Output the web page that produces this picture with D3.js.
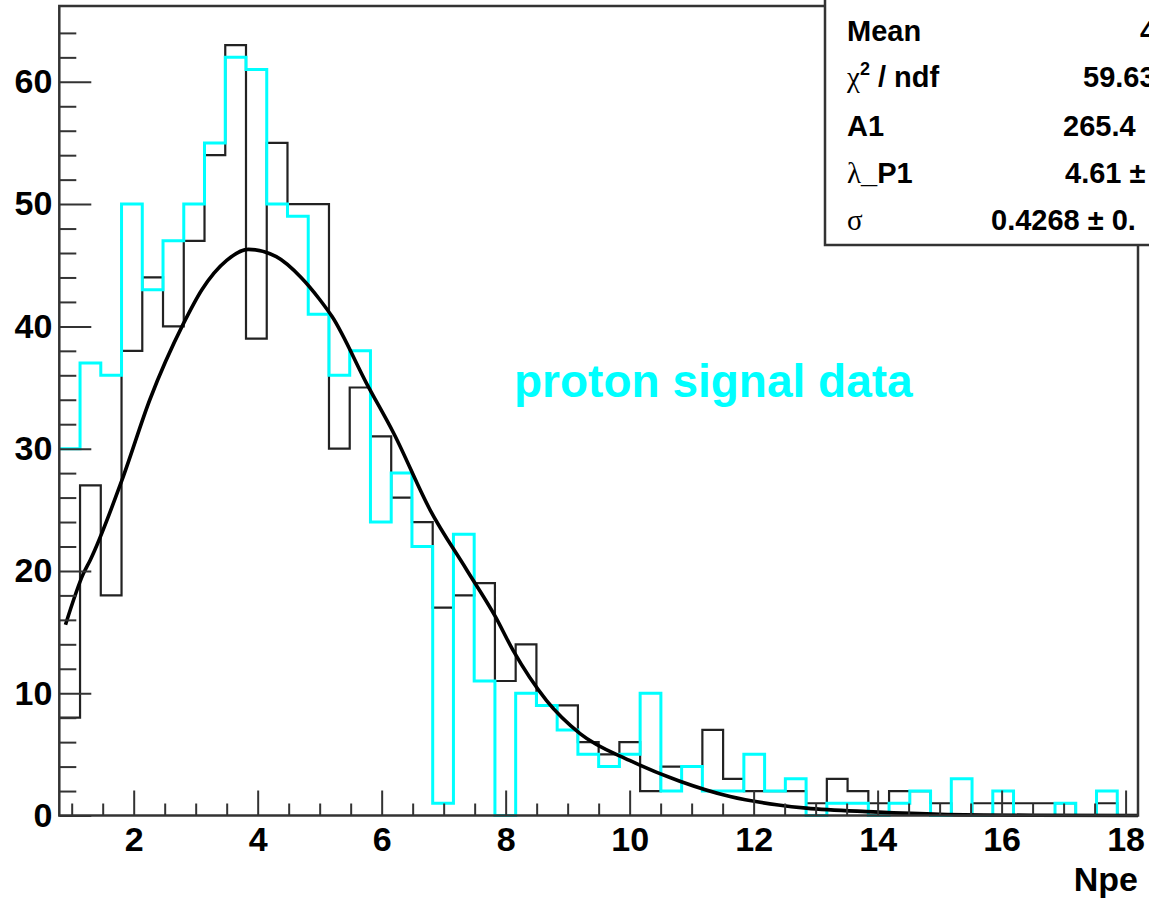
<!DOCTYPE html>
<html>
<head>
<meta charset="utf-8">
<script src="https://cdn.jsdelivr.net/npm/d3@7"></script>
<style>
  body { margin: 0; background: #fff; }
  svg { display: block; font-family: "Liberation Sans", Arial, Helvetica, sans-serif; }
</style>
</head>
<body>
<div id="chart"></div>
<script>
// histogram binning (Npe axis)
const binLo = 0.8, binHi = 18.2, nBins = 52;

// black histogram counts
const blackCounts = [8,27,18,38,44,40,47,54,63,39,
                     55,50,50,30,35,31,26,24,17,18,
                     19,11,14,9,9,6,5,6,2,4,
                     4,7,3,2,2,2,1,3,2,1,
                     2,2,1,0,1,1,1,1,1,0,
                     1,0];

// cyan histogram counts ("proton signal data")
const cyanCounts = [30,37,36,50,43,47,50,55,62,61,
                    50,49,41,36,38,24,28,22,1,23,
                    11,0,10,9,7,5,4,5,10,2,
                    4,2,2,5,2,3,0,1,1,0,
                    1,2,0,3,0,2,0,0,1,0,
                    2,0];

// fitted curve
const fitX = [0.9,1.19,1.3,1.83,2.26,2.8,3.1,3.5,3.85,4.3,4.7,5.0,5.2,5.76,6.2,6.78,7.37,7.83,8.12,8.66,9.2,10.0,10.81,11.62,12.4,12.85,13.93,15.0,16.5,18.2];
const fitY = [15.6,19.8,20.9,27.7,34.0,40.2,43.0,45.4,46.3,45.7,44.0,42.2,40.8,35.3,31.2,25.0,20.1,16.3,13.5,9.4,6.7,4.5,2.8,1.55,0.86,0.6,0.3,0.1,0.02,0.0];

const xTicks = [2,4,6,8,10,12,14,16,18];
const yTicks = [0,10,20,30,40,50,60];

// stats box rows
const statNames = ["Mean", "χ2 / ndf", "A1", "λ_P1", "σ"];
const statValues = ["4", "59.63", "265.4", "4.61 ±", "0.4268 ± 0."];

const W = 1149, H = 901;
const plot = {left: 59.3, right: 1138, top: 6, bottom: 815.5};

const svg = d3.select("#chart").append("svg")
    .attr("width", W)
    .attr("height", H);

const x = d3.scaleLinear().domain([binLo, binHi]).range([plot.left, plot.right]);
const y = d3.scaleLinear().domain([0, 66.2]).range([plot.bottom, plot.top]);

const binW = (binHi - binLo) / nBins;

// step outline for a histogram (no drop line at the left edge, like ROOT)
function stepPoints(counts) {
    const pts = [];
    counts.forEach((c, i) => {
        pts.push([binLo + i * binW, c]);
        pts.push([binLo + (i + 1) * binW, c]);
    });
    pts.push([binHi, 0]);
    return pts;
}

const line = d3.line().x(d => x(d[0])).y(d => y(d[1]));

svg.append("path")
    .attr("d", line(stepPoints(blackCounts)))
    .attr("fill", "none")
    .attr("stroke", "#222")
    .attr("stroke-width", 2.2);

svg.append("path")
    .attr("d", line(stepPoints(cyanCounts)))
    .attr("fill", "none")
    .attr("stroke", "#00ffff")
    .attr("stroke-width", 3);

// fit curve
svg.append("path")
    .attr("d", d3.line()
        .x((d, i) => x(fitX[i]))
        .y(d => y(d))
        .curve(d3.curveMonotoneX)(fitY))
    .attr("fill", "none")
    .attr("stroke", "#000")
    .attr("stroke-width", 3.6);

// axes
const yMinor = d3.range(0, 66, 2).filter(v => v % 10 !== 0);
const xMinor = d3.range(1, 18.1, 0.5).filter(v => v % 2 !== 0);

svg.append("g")
    .attr("transform", `translate(${plot.left},0)`)
    .call(d3.axisLeft(y).tickValues(yMinor).tickSize(-17).tickFormat(""))
    .call(g => g.select(".domain").remove())
    .selectAll("line").attr("stroke", "#333").attr("stroke-width", 2);

svg.append("g")
    .attr("transform", `translate(${plot.left},0)`)
    .call(d3.axisLeft(y).tickValues(yTicks).tickSize(-32).tickPadding(7))
    .call(g => g.select(".domain").remove())
    .call(g => g.selectAll("line").attr("stroke", "#333").attr("stroke-width", 2))
    .call(g => g.selectAll("text")
        .attr("font-size", 34).attr("font-weight", "bold")
        .attr("font-family", "Liberation Sans, Arial, sans-serif").attr("fill", "#000"));

svg.append("g")
    .attr("transform", `translate(0,${plot.bottom})`)
    .call(d3.axisBottom(x).tickValues(xMinor).tickSize(-12).tickFormat(""))
    .call(g => g.select(".domain").remove())
    .selectAll("line").attr("stroke", "#333").attr("stroke-width", 2);

svg.append("g")
    .attr("transform", `translate(0,${plot.bottom})`)
    .call(d3.axisBottom(x).tickValues(xTicks).tickSize(-25).tickPadding(11))
    .call(g => g.select(".domain").remove())
    .call(g => g.selectAll("line").attr("stroke", "#333").attr("stroke-width", 2))
    .call(g => g.selectAll("text")
        .attr("font-size", 34).attr("font-weight", "bold")
        .attr("font-family", "Liberation Sans, Arial, sans-serif").attr("fill", "#000"));

// frame
svg.append("rect")
    .attr("x", plot.left).attr("y", plot.top)
    .attr("width", plot.right - plot.left).attr("height", plot.bottom - plot.top)
    .attr("fill", "none").attr("stroke", "#333").attr("stroke-width", 2.5);

svg.append("text")
    .attr("x", plot.right).attr("y", 891)
    .attr("text-anchor", "end")
    .attr("font-size", 34).attr("font-weight", "bold")
    .text("Npe");

svg.append("text")
    .attr("x", 514).attr("y", 397)
    .attr("font-size", 46).attr("font-weight", "bold")
    .attr("fill", "#00ffff")
    .text("proton signal data");

// stats box (runs off the top/right edge of the canvas, as in the original)
const box = svg.append("g");
box.append("rect")
    .attr("x", 825).attr("y", -10)
    .attr("width", 400).attr("height", 255)
    .attr("fill", "#fff").attr("stroke", "#333").attr("stroke-width", 2.5);

const rowY = [41, 87, 136, 183, 230];
const serif = "Liberation Serif, DejaVu Serif, serif";

statNames.forEach((name, i) => {
    const t = box.append("text")
        .attr("x", 847).attr("y", rowY[i])
        .attr("font-size", 29).attr("font-weight", "bold");
    if (name.startsWith("χ")) {
        t.append("tspan").attr("font-family", serif).attr("font-weight", "normal").text("χ");
        t.append("tspan").attr("font-size", 18).attr("dy", -12).text("2");
        t.append("tspan").attr("dy", 12).text(" / ndf");
    } else if (name.startsWith("λ")) {
        t.append("tspan").attr("font-family", serif).attr("font-weight", "normal").text("λ");
        t.append("tspan").text("_P1");
    } else if (name === "σ") {
        t.attr("font-family", serif).attr("font-weight", "normal").text(name);
    } else {
        t.text(name);
    }
});

const valueX = [1140, 1083, 1063, 1065, 991];
statValues.forEach((v, i) => {
    box.append("text")
        .attr("x", valueX[i]).attr("y", rowY[i])
        .attr("font-size", 29).attr("font-weight", "bold")
        .text(v);
});
</script>
</body>
</html>
